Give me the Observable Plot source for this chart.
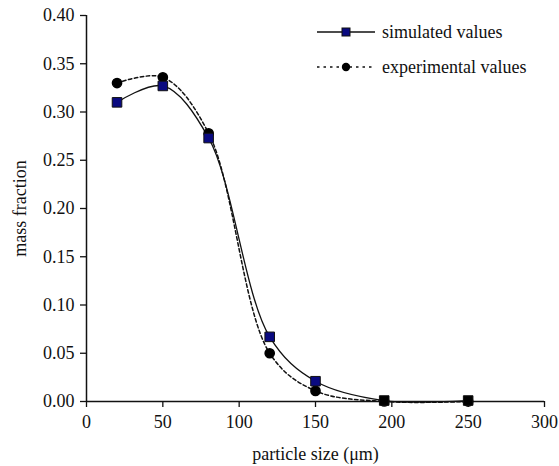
<!DOCTYPE html>
<html>
<head>
<meta charset="utf-8">
<script src="https://cdn.jsdelivr.net/npm/d3@7"></script>
<script src="https://cdn.jsdelivr.net/npm/@observablehq/plot@0.6"></script>
<style>
  body { margin: 0; background: #fff; }
  #chart svg, #chart svg text { font-family: "Liberation Serif", "Times New Roman", serif !important; }
</style>
</head>
<body>
<div id="chart"></div>
<script>
const sizes = [20, 50, 80, 120, 150, 195, 250];
const simulated = [0.310, 0.327, 0.273, 0.067, 0.021, 0.001, 0.001];
const experimental = [0.330, 0.336, 0.278, 0.050, 0.011, 0.000, 0.000];
const xTicks = [0, 50, 100, 150, 200, 250, 300];
const yTicks = [0, 0.05, 0.10, 0.15, 0.20, 0.25, 0.30, 0.35, 0.40];
const legendLabels = ["simulated values", "experimental values"];

const sim = sizes.map((x, i) => ({x, y: simulated[i]}));
const exp = sizes.map((x, i) => ({x, y: experimental[i]}));

const plot = Plot.plot({
  width: 559,
  height: 466,
  marginLeft: 86,
  marginRight: 15,
  marginTop: 15,
  marginBottom: 65,
  style: "font-family: 'Liberation Serif', serif; font-size: 18px; color: #111; background: #fff;",
  x: {domain: [0, 300], ticks: xTicks, label: null},
  y: {domain: [0, 0.4], ticks: yTicks, label: null, tickFormat: d3.format(".2f")},
  marks: [
    Plot.ruleX([0], {stroke: "#111", strokeWidth: 1.5}),
    Plot.ruleY([0], {stroke: "#111", strokeWidth: 1.5}),
    Plot.axisX({ticks: xTicks, tickSize: 6, tickPadding: 8, fontSize: 18, stroke: "#111", strokeWidth: 1.3, label: null}),
    Plot.axisY({ticks: yTicks, tickSize: 6, tickPadding: 6, fontSize: 18, stroke: "#111", strokeWidth: 1.3, tickFormat: d3.format(".2f"), label: null}),
    Plot.line(exp, {x: "x", y: "y", curve: "catmull-rom", stroke: "#111", strokeWidth: 1.5, strokeDasharray: "3.5,2.5"}),
    Plot.line(sim, {x: "x", y: "y", curve: "catmull-rom", stroke: "#111", strokeWidth: 1.3}),
    Plot.dot(exp, {x: "x", y: "y", r: 4.6, fill: "#000", stroke: "#000"}),
    Plot.dot(sim, {x: "x", y: "y", symbol: "square", r: 5.4, fill: d => d.y < 0.005 ? "#000" : "#0a0a80", stroke: "#111", strokeWidth: 1}),
    Plot.text(["particle size (μm)"], {frameAnchor: "bottom", textAnchor: "middle", dy: 58, fontSize: 18, fill: "#111"}),
    Plot.text(["mass fraction"], {frameAnchor: "left", textAnchor: "middle", lineAnchor: "middle", dx: -66, rotate: -90, fontSize: 18, fill: "#111"})
  ]
});
document.getElementById("chart").appendChild(plot);

// legend (top-right inside plot area)
const svg = d3.select(plot);
const lg = svg.append("g").attr("font-size", 18).attr("fill", "#111").attr("text-anchor", "start");
const rows = [
  {y: 32, dash: null, sym: "square"},
  {y: 67, dash: "2.5,4", sym: "circle"}
];
rows.forEach((r, i) => {
  lg.append("line").attr("x1", 317).attr("x2", 375).attr("y1", r.y).attr("y2", r.y)
    .attr("stroke", "#111").attr("stroke-width", 1.3).attr("stroke-dasharray", r.dash);
  if (r.sym === "square") {
    lg.append("rect").attr("x", 342).attr("y", r.y - 4).attr("width", 8).attr("height", 8)
      .attr("fill", "#0a0a80").attr("stroke", "#111");
  } else {
    lg.append("circle").attr("cx", 346).attr("cy", r.y).attr("r", 4.2).attr("fill", "#000");
  }
  lg.append("text").attr("x", 382).attr("y", r.y).attr("dy", "0.32em").attr("text-anchor", "start").text(legendLabels[i]);
});
</script>
</body>
</html>
